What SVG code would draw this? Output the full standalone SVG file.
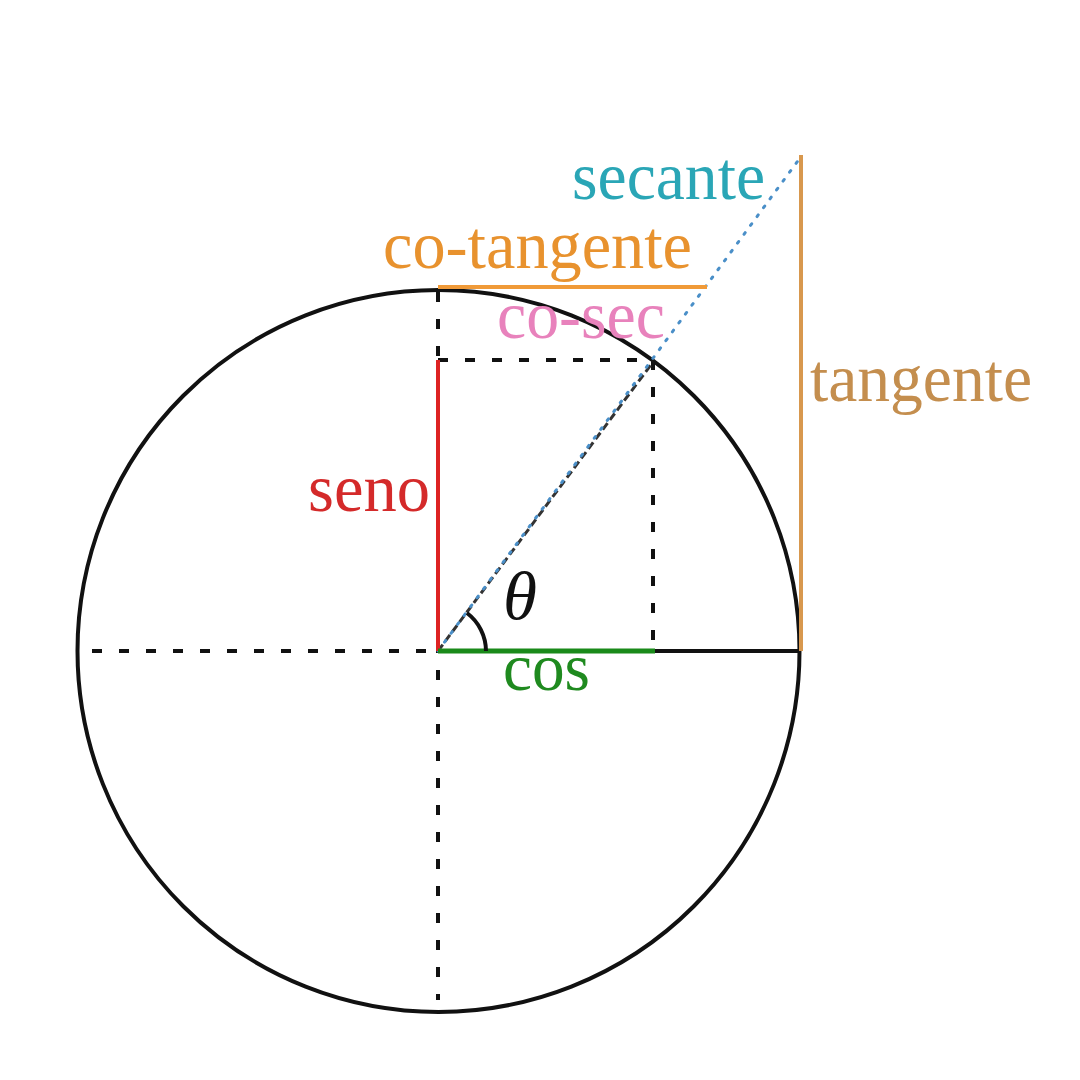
<svg xmlns="http://www.w3.org/2000/svg" width="1080" height="1080" viewBox="0 0 1080 1080">
<style>
.lbl{font-family:"Liberation Serif","Times New Roman",serif;font-size:68px}
.dash{stroke:#111;stroke-width:4;stroke-dasharray:10 17;fill:none}
</style>
<rect width="1080" height="1080" fill="#fff"/>
<g id="circle"><circle cx="438.5" cy="651" r="361" fill="none" stroke="#111" stroke-width="4"/></g>
<g id="connectors">
<line class="dash" x1="92" y1="651" x2="438" y2="651"/>
<line class="dash" x1="438" y1="292" x2="438" y2="1000"/>
<line class="dash" x1="438" y1="360" x2="653" y2="360"/>
<line class="dash" x1="653" y1="360" x2="653" y2="651"/>
<line x1="653" y1="651" x2="800" y2="651" stroke="#111" stroke-width="4"/>
<line id="radius" x1="438" y1="651" x2="653" y2="362" stroke="#333" stroke-width="3" stroke-dasharray="8 4"/>
<line id="secant" x1="438" y1="651" x2="800" y2="158" stroke="#4a8fc8" stroke-width="3" stroke-dasharray="2 9" stroke-linecap="round"/>
<line id="sine" x1="438" y1="360" x2="438" y2="651" stroke="#dd2222" stroke-width="4"/>
<line id="cosine" x1="438" y1="651" x2="655" y2="651" stroke="#1a8a1a" stroke-width="5"/>
<line id="tangent" x1="801" y1="155" x2="801" y2="651" stroke="#d8984e" stroke-width="4"/>
<line id="cotangent" x1="438" y1="287" x2="707" y2="287" stroke="#f09a38" stroke-width="4"/>
<path id="angle" d="M486,651 A48,48 0 0 0 467,613" fill="none" stroke="#111" stroke-width="4"/>
</g>
<g id="labels">
<text class="lbl" x="572" y="199" fill="#2aa6b6" textLength="193" lengthAdjust="spacingAndGlyphs">secante</text>
<text class="lbl" x="383" y="268" fill="#e8922e" textLength="309" lengthAdjust="spacingAndGlyphs">co-tangente</text>
<text class="lbl" x="497" y="338" fill="#e882bc" textLength="168" lengthAdjust="spacingAndGlyphs">co-sec</text>
<text class="lbl" x="810" y="401" fill="#c48e4e" textLength="222" lengthAdjust="spacingAndGlyphs">tangente</text>
<text class="lbl" x="308" y="511" fill="#d42a2a" textLength="122" lengthAdjust="spacingAndGlyphs">seno</text>
<text class="lbl" x="503" y="619" fill="#111" font-style="italic" font-size="56" textLength="34" lengthAdjust="spacingAndGlyphs">θ</text>
<text class="lbl" x="503" y="690" fill="#1f8a1f" font-size="62" textLength="87" lengthAdjust="spacingAndGlyphs">cos</text>
</g>
</svg>
